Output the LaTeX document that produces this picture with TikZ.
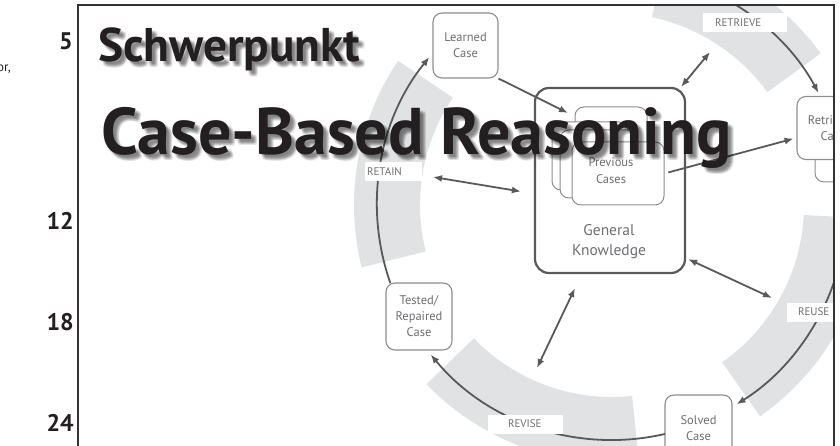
\documentclass[tikz,border=0pt]{standalone}
\usepackage{fontspec}
\setmainfont{PT Sans}
\usetikzlibrary{arrows.meta,positioning,calc}

\definecolor{inkgray}{HTML}{58595B}
\definecolor{textgray}{HTML}{6D6E71}
\definecolor{boxgray}{HTML}{8C8D8F}
\definecolor{bandgray}{HTML}{E1E2E3}
\definecolor{titleblack}{HTML}{231F20}
\definecolor{frameblack}{HTML}{333333}

\begin{document}
\begin{tikzpicture}[
  x=1pt, y=-1pt,
  >={Latex[length=9pt,width=7pt]},
  casebox/.style={draw=boxgray, line width=1.1pt, rounded corners=9pt, fill=white, align=center, text=textgray, font=\fontsize{12.5}{16}\selectfont, inner sep=0pt},
  card/.style={draw=boxgray, line width=1pt, rounded corners=9pt, fill=white},
  gkbox/.style={draw=inkgray, line width=2.2pt, rounded corners=14pt, minimum width=150pt, minimum height=185pt},
  caselabel/.style={text=textgray, align=center, inner sep=0pt},
  phase/.style={fill=white, align=left, text=textgray, font=\fontsize{11}{12}\selectfont, inner ysep=0pt, minimum height=19pt},
  band/.style={fill=bandgray},
  cyc/.style={draw=inkgray, line width=1.8pt, ->},
  link/.style={draw=inkgray, line width=1.8pt, <->},
  oneway/.style={draw=inkgray, line width=1.8pt, ->},
  headline/.style={anchor=base west, text=titleblack, inner sep=0pt, font=\bfseries\fontsize{#1}{#1}\selectfont},
  pagenum/.style={anchor=base east, inner sep=0pt, text=titleblack, font=\bfseries\fontsize{24}{24}\selectfont}
]
\useasboundingbox (0,0) rectangle (840,446);

% margin of the page
\node[pagenum] (p5) at (73,50) {5};
\node[anchor=base west, inner sep=0pt, text=titleblack, font=\fontsize{13}{13}\selectfont] (orcut) at (-3,72) {or,};
\node[pagenum] (p12) at (74,229.5) {12};
\node[pagenum] (p18) at (74,330.5) {18};
\node[pagenum] (p24) at (74,431.5) {24};

\begin{scope}
\clip (78,5) rectangle (834,446);
\coordinate (hub) at (612,205);

% grey phase bands
\foreach \from/\to in {-78/-36, 3/55, 84/136, 166/214}
  \fill[band] ($(hub)+(\from:192)$) arc[start angle=\from, end angle=\to, radius=192]
    -- ($(hub)+(\to:258)$) arc[start angle=\to, end angle=\from, radius=258] -- cycle;

% cases on the cycle
\node[casebox, minimum width=65pt, minimum height=65pt] (learned) at (465.5,45.5) {Learned\\Case};
\draw[card] (815,140) rectangle (880,182);
\node[casebox, minimum width=72pt, minimum height=63pt] (retrieved) at (833,128) {Retrieved\\Case};
\node[casebox, minimum width=67pt, minimum height=66pt] (solved) at (698.5,428) {Solved\\Case};
\node[casebox, minimum width=66pt, minimum height=67pt] (tested) at (419,316.5) {Tested/\\Repaired\\Case};

% knowledge box with the stack of previous cases
\node[gkbox] (gk) at (610,180.5) {};
\node[caselabel, font=\fontsize{15.5}{20}\selectfont] (gklabel) at (609,242) {General\\Knowledge};
\draw[card] (575,107) rectangle (647,165);
\draw[card] (552,122) rectangle (628,190);
\draw[card] (560,130) rectangle (636,198);
\node[card, minimum width=92pt, minimum height=63pt] (prev) at (618,173.5) {};
\node[caselabel, font=\fontsize{12.5}{17}\selectfont] (prevlabel) at (611,171) {Previous\\Cases};

% the cycle
\draw[cyc] ($(hub)+(-80:235)$) arc[start angle=-80, end angle=-28.5, radius=235];
\draw[cyc] ($(hub)+(12:235)$) arc[start angle=12, end angle=58, radius=235];
\draw[cyc] ($(hub)+(77:235)$) arc[start angle=77, end angle=140.5, radius=235];
\draw[cyc] ($(hub)+(160.6:235)$) arc[start angle=160.6, end angle=219, radius=235];

\node[phase, inner xsep=12pt, text width=60pt] (retrieve) at (745,23) {RETRIEVE};
\node[phase, inner xsep=11pt, text width=40pt] (reuse) at (818,312) {REUSE};
\node[phase, inner xsep=20pt, text width=35pt] (revise) at (525.5,424) {REVISE};
\node[phase, inner xsep=2pt, text width=53pt] (retain) at (393.5,171.5) {RETAIN};

% links to the knowledge
\coordinate (stack-in) at (568,113);
\coordinate (retrieve-in) at (710,52);
\coordinate (reuse-in) at (772,298);
\coordinate (revise-in) at (537,368);
\coordinate (retain-in) at (433,177);
\draw[oneway] (learned.south east) -- (stack-in);
\draw[oneway, shorten <=4pt, shorten >=3pt] (prev.east) -- (retrieved);
\draw[link] ([xshift=-5pt]gk.north east) -- (retrieve-in);
\draw[link] (retain-in) -- ([xshift=-13pt, yshift=-11pt]gk.west);
\draw[link] ([xshift=2pt, yshift=15pt]gk.south east) -- (reuse-in);
\draw[link] ([xshift=-35pt, yshift=-14pt]gk.south) -- (revise-in);

% title with soft shadow
\foreach \dx/\dy in {2/2, 3/3, 4/4, 5/5, 3/5, 5/3, 4/6, 6/4, 6/6} {
  \node[headline=47.3, text=black, opacity=0.07] (schwer-s\dx\dy) at (98+\dx,62+\dy) {Schwerpunkt};
  \node[headline=66, text=black, opacity=0.07] (cbr-s\dx\dy) at (101+\dx,155+\dy) {Case-Based Reasoning};
}
\node[headline=47.3] (schwer) at (98,62) {Schwerpunkt};
\node[headline=66] (cbr) at (101,155) {Case-Based Reasoning};
\end{scope}

\draw[frameblack, line width=1.3pt] (78,450) -- (78,5) -- (834,5) -- (834,450);
\end{tikzpicture}
\end{document}
